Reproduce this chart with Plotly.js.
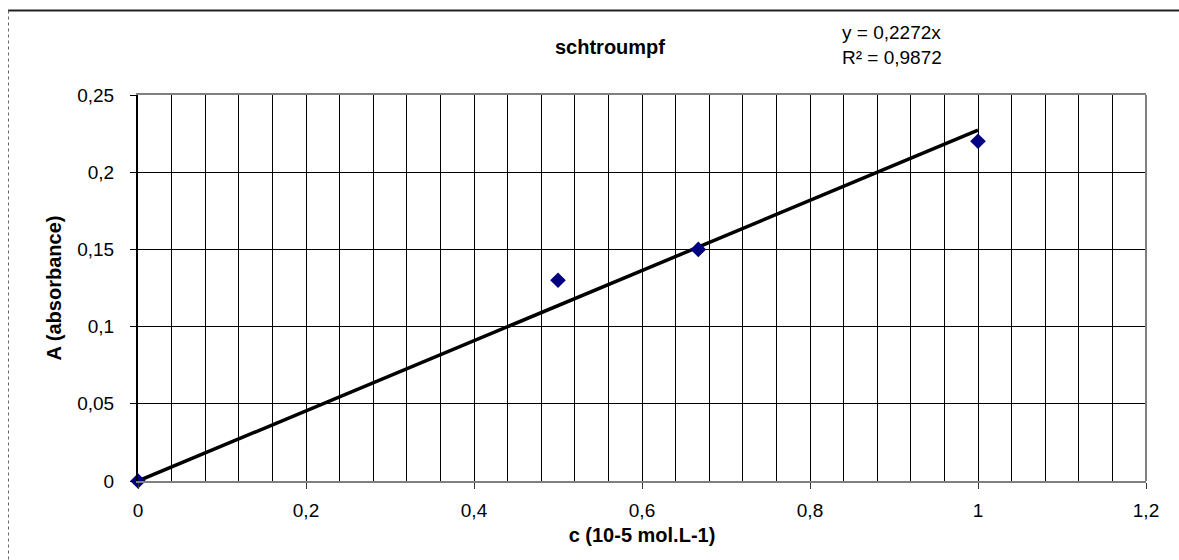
<!DOCTYPE html>
<html>
<head>
<meta charset="utf-8">
<script src="https://cdn.plot.ly/plotly-3.0.1.min.js"></script>
<style>html,body{margin:0;padding:0;background:#fff;}#chart{width:1179px;height:560px;}</style>
</head>
<body>
<div id="chart"></div>
<script>
// Data
const concentrations = [0, 0.5, 0.667, 1];
const absorbances = [0, 0.13, 0.15, 0.22];
const chartTitle = "schtroumpf";
const xTitle = "c (10-5 mol.L-1)";
const yTitle = "A (absorbance)";
const equationLines = ["y = 0,2272x", "R² = 0,9872"];

// least-squares slope through origin (Excel trendline, intercept 0)
let sxy = 0, sxx = 0;
for (let i = 0; i < concentrations.length; i++) {
  sxy += concentrations[i] * absorbances[i];
  sxx += concentrations[i] * concentrations[i];
}
const slope = sxy / sxx;
const xMin = Math.min(...concentrations), xMax = Math.max(...concentrations);

const W = 1179, H = 560;
const M = {l: 138, r: 33, t: 95, b: 79};
const PW = W - M.l - M.r, PH = H - M.t - M.b;
const px = v => (v - M.l) / PW;
const py = v => (H - M.b - v) / PH;

const FONT = '"Liberation Sans", Arial, sans-serif';

const traces = [
  {
    x: [xMin, xMax],
    y: [slope * xMin, slope * xMax],
    mode: 'lines',
    line: {color: '#000000', width: 3.5},
    hoverinfo: 'skip',
    showlegend: false,
    cliponaxis: false
  },
  {
    x: concentrations,
    y: absorbances,
    mode: 'markers',
    marker: {symbol: 'diamond', color: '#000080', size: 12, line: {width: 0}},
    showlegend: false,
    cliponaxis: false
  }
];

const layout = {
  width: W, height: H,
  margin: M,
  paper_bgcolor: '#ffffff',
  plot_bgcolor: '#ffffff',
  separators: ', ',
  font: {family: FONT, color: '#000000', size: 19},
  showlegend: false,
  title: {
    text: '<b>' + chartTitle + '</b>',
    font: {family: FONT, size: 20, color: '#000'},
    x: px(610), xref: 'paper', xanchor: 'center',
    y: 1 - 47 / H, yref: 'container', yanchor: 'middle'
  },
  xaxis: {
    range: [0, 1.2],
    dtick: 0.2, tick0: 0,
    showgrid: true, gridcolor: '#000000', gridwidth: 1,
    minor: {dtick: 0.04, showgrid: true, gridcolor: '#000000', gridwidth: 1, ticks: ''},
    zeroline: true, zerolinecolor: '#000000', zerolinewidth: 2,
    showline: true, linecolor: '#808080', linewidth: 2, mirror: true,
    ticks: 'outside', ticklen: 6, tickcolor: '#333333', tickwidth: 1,
    ticklabelstandoff: 5,
    tickfont: {family: FONT, size: 19, color: '#000'},
    title: {text: '<b>' + xTitle + '</b>', font: {family: FONT, size: 20, color: '#000'}, standoff: 8},
    fixedrange: true
  },
  yaxis: {
    range: [0, 0.25],
    dtick: 0.05, tick0: 0,
    showgrid: true, gridcolor: '#000000', gridwidth: 1,
    zeroline: false,
    showline: true, linecolor: '#000000', linewidth: 2, mirror: false,
    ticks: 'outside', ticklen: 6, tickcolor: '#000000', tickwidth: 1,
    ticklabelstandoff: 12,
    tickfont: {family: FONT, size: 19, color: '#000'},
    title: {text: '<b>' + yTitle + '</b>', font: {family: FONT, size: 20, color: '#000'}, standoff: 10},
    fixedrange: true
  },
  shapes: [
    // right plot border
    {type: 'line', xref: 'paper', yref: 'paper', x0: 1, x1: 1, y0: 0, y1: 1,
     line: {color: '#808080', width: 2}, layer: 'above'},
    // outer chart frame: top edge
    {type: 'line', xref: 'paper', yref: 'paper', x0: px(8), x1: px(1179), y0: py(10.5), y1: py(10.5),
     line: {color: '#222222', width: 2}},
    // outer chart frame: left edge (dotted)
    {type: 'line', xref: 'paper', yref: 'paper', x0: px(8.5), x1: px(8.5), y0: py(10.5), y1: py(560),
     line: {color: '#666666', width: 1, dash: 'dot'}}
  ],
  annotations: [
    {
      text: equationLines.join('<br>'),
      xref: 'paper', yref: 'paper',
      x: px(840), y: py(20), xanchor: 'left', yanchor: 'top',
      align: 'left', showarrow: false,
      font: {family: FONT, size: 19, color: '#000'}
    }
  ]
};

Plotly.newPlot('chart', traces, layout, {displayModeBar: false, staticPlot: true});
</script>
</body>
</html>
